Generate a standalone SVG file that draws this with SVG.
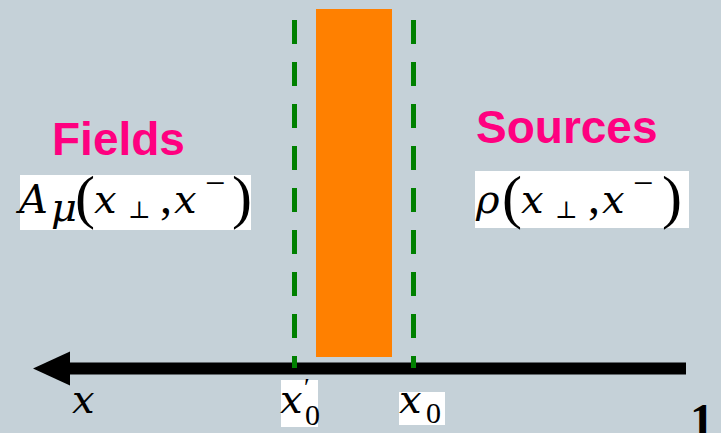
<svg xmlns="http://www.w3.org/2000/svg" width="721" height="433" viewBox="0 0 721 433">
<style>
.lbl{font-family:"Liberation Sans",Arial,sans-serif;font-weight:bold;font-size:46px;fill:#ff0080}
.m{font-family:"Liberation Serif","Times New Roman",serif;font-size:48px;fill:#000}
.i{font-family:"DejaVu Serif","Liberation Serif",serif;font-style:italic;font-size:40px}
.p{font-size:60px}
.box{fill:#fff}
.dash{stroke:#008000;stroke-width:5;stroke-dasharray:24 18;fill:none}
</style>
<rect x="0" y="0" width="721" height="433" fill="#c5d1d8"/>
<g id="slab">
<rect x="316" y="9" width="76" height="348" fill="#ff8000"/>
</g>
<g id="connectors">
<line x1="66" y1="368.5" x2="686" y2="368.5" stroke="#000" stroke-width="12"/>
<polygon points="33,368.5 70,351.5 70,385.5" fill="#000"/>
<line class="dash" x1="294.5" y1="20" x2="294.5" y2="368"/>
<line class="dash" x1="413.5" y1="20" x2="413.5" y2="368"/>
</g>
<g id="fields">
<text class="lbl" x="52" y="155">Fields</text>
<rect class="box" x="20" y="175" width="231" height="55"/>
<text class="m" y="213"><tspan class="i" x="19">A</tspan><tspan class="i" x="51" y="221" font-size="25">μ</tspan><tspan class="p" x="75" y="217">(</tspan><tspan class="i" x="94" y="213">x</tspan><tspan x="128" y="218" font-family="DejaVu Serif" font-size="24">⊥</tspan><tspan x="160" y="213">,</tspan><tspan class="i" x="174">x</tspan><tspan x="205" y="195" font-size="36">−</tspan><tspan class="p" x="232" y="217">)</tspan></text>
</g>
<g id="sources">
<text class="lbl" x="476" y="143">Sources</text>
<rect class="box" x="475" y="171" width="214" height="57"/>
<text class="m" y="213"><tspan class="i" x="476">ρ</tspan><tspan class="p" x="502" y="217">(</tspan><tspan class="i" x="521" y="213">x</tspan><tspan x="555" y="218" font-family="DejaVu Serif" font-size="24">⊥</tspan><tspan x="588" y="213">,</tspan><tspan class="i" x="602">x</tspan><tspan x="633" y="195" font-size="36">−</tspan><tspan class="p" x="662" y="217">)</tspan></text>
</g>
<g id="x-label">
<text class="m i" x="72" y="413" font-size="44">x</text>
</g>
<g id="x0prime">
<rect class="box" x="281" y="380" width="37" height="47"/>
<text class="m" y="413"><tspan class="i" x="280" font-size="34">x</tspan><tspan x="304" y="396" font-size="26">′</tspan><tspan x="305" y="425" font-size="30">0</tspan></text>
</g>
<g id="x0">
<rect class="box" x="399" y="392" width="46" height="33"/>
<text class="m" y="413"><tspan class="i" x="399" font-size="36">x</tspan><tspan x="426" y="423" font-size="30">0</tspan></text>
</g>
<g id="page-number">
<text x="690" y="437" font-family="Liberation Serif,serif" font-weight="bold" font-size="48" fill="#000">1</text>
</g>
</svg>
